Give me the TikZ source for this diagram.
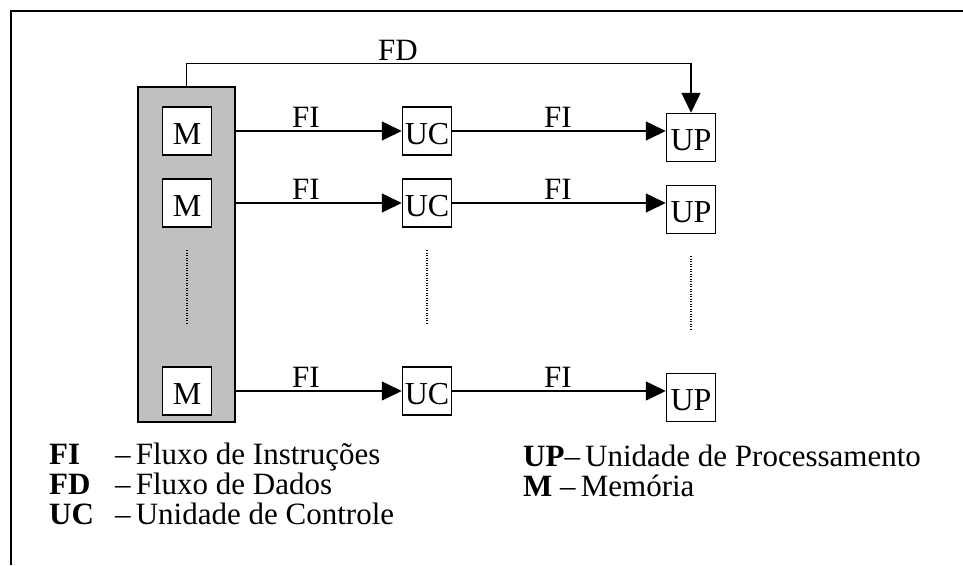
\documentclass[tikz,border=0pt]{standalone}
\usepackage{fontspec}
\setmainfont{Liberation Serif}
\usetikzlibrary{arrows.meta}
\definecolor{memgray}{RGB}{192,192,192}
\begin{document}
\begin{tikzpicture}[x=1pt,y=-1pt,
  box/.style={draw,line width=1.5pt,fill=white,minimum width=49pt,minimum height=48pt,inner sep=0pt,text height=26pt,text depth=0pt,font=\fontsize{32}{32}\selectfont},
  flow/.style={line width=1.5pt,-{Triangle[length=20pt,width=19pt]}},
  lbl/.style={font=\fontsize{31}{31}\selectfont,inner sep=0pt,anchor=base},
  dots/.style={line width=1.2pt,dash pattern=on 1pt off 1.5pt},
  leg/.style={font=\fontsize{31}{31}\selectfont,inner sep=0pt,anchor=base west}]
\useasboundingbox (0,0) rectangle (963,565);
\draw[line width=1.6pt] (11,565) -- (11,11) -- (963,11);
\node[draw,line width=1.5pt,fill=memgray,minimum width=97pt,minimum height=335pt,inner sep=0pt] (mem) at (186.5,254.5) {};
\node[box] (m1) at (187,131) {M};
\node[box] (m2) at (187,203) {M};
\node[box] (m3) at (187,391) {M};
\node[box] (uc1) at (427,131) {UC};
\node[box] (uc2) at (427,203) {UC};
\node[box] (uc3) at (427,391) {UC};
\node[box] (up1) at (691,137.5) {UP};
\node[box] (up2) at (691,209.5) {UP};
\node[box] (up3) at (691,397.5) {UP};
% flows
\draw[flow] (mem.north) -- ++(0,-23) -| (up1.north);
\node[lbl] (fd) at (398,60) {FD};
\foreach \i in {1,2,3}{
  \draw[flow] (mem.east |- m\i) -- (uc\i.west);
  \draw[flow] (uc\i.east) -- (uc\i.east -| up\i.west);
}
\node[lbl] (fi1a) at (306,127) {FI};
\node[lbl] (fi1b) at (558,127) {FI};
\node[lbl] (fi2a) at (306,199) {FI};
\node[lbl] (fi2b) at (558,199) {FI};
\node[lbl] (fi3a) at (306,387) {FI};
\node[lbl] (fi3b) at (558,387) {FI};
% dotted continuation
\draw[dots] (187,250) -- (187,325);
\draw[dots] (427,250) -- (427,325);
\draw[dots] (691,256) -- (691,331);
% legend
\node[leg] (l1) at (49,464) {\textbf{FI}};
\node[leg] (l1t) at (115,464) {–\,Fluxo de Instruções};
\node[leg] (l2) at (49,494) {\textbf{FD}};
\node[leg] (l2t) at (115,494) {–\,Fluxo de Dados};
\node[leg] (l3) at (49,524) {\textbf{UC}};
\node[leg] (l3t) at (115,524) {–\,Unidade de Controle};
\node[leg] (l4) at (523,466) {\textbf{UP}–\,Unidade de Processamento};
\node[leg] (l5) at (523,496) {\textbf{M} –\,Memória};
\end{tikzpicture}
\end{document}
